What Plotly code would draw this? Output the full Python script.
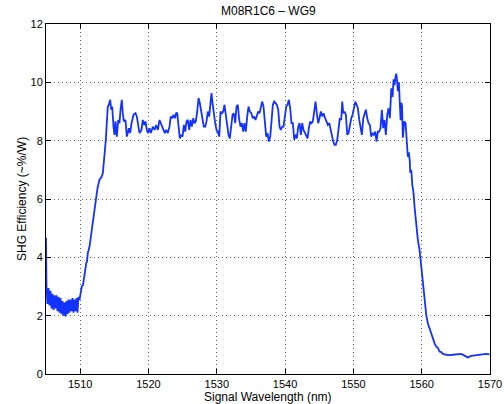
import plotly.graph_objects as go

# Signal wavelength (nm)
wavelength = [
    1505.00, 1505.07, 1505.21, 1505.37, 1505.51, 1505.66, 1505.81, 1505.95, 1506.10, 1506.24,
    1506.39, 1506.54, 1506.68, 1506.83, 1506.98, 1507.12, 1507.27, 1507.42, 1507.56, 1507.71,
    1507.85, 1508.00, 1508.15, 1508.29, 1508.44, 1508.59, 1508.73, 1508.88, 1509.03, 1509.17,
    1509.32, 1509.47, 1509.61, 1509.76, 1509.90, 1510.05, 1510.24, 1510.42, 1510.59, 1510.74,
    1510.89, 1511.00, 1511.12, 1511.37, 1511.56, 1511.81, 1512.06, 1512.29, 1512.54, 1512.83,
    1513.13, 1513.32, 1513.57, 1513.76, 1513.90, 1514.05, 1514.20, 1514.40, 1514.55, 1514.69,
    1514.88, 1515.03, 1515.17, 1515.37, 1515.57, 1515.76, 1515.91, 1516.10, 1516.24, 1516.39,
    1516.64, 1516.83, 1516.98, 1517.12, 1517.33, 1517.52, 1517.81, 1518.10, 1518.29, 1518.50,
    1518.69, 1518.98, 1519.17, 1519.38, 1519.57, 1519.76, 1519.96, 1520.15, 1520.34, 1520.64,
    1520.89, 1521.13, 1521.37, 1521.62, 1521.81, 1522.01, 1522.20, 1522.39, 1522.60, 1522.83,
    1523.08, 1523.27, 1523.48, 1523.67, 1523.86, 1524.06, 1524.21, 1524.40, 1524.59, 1524.80,
    1524.99, 1525.18, 1525.38, 1525.57, 1525.76, 1525.97, 1526.16, 1526.35, 1526.56, 1526.74,
    1526.93, 1527.14, 1527.33, 1527.52, 1527.73, 1527.91, 1528.10, 1528.31, 1528.50, 1528.69,
    1528.89, 1529.08, 1529.23, 1529.38, 1529.57, 1529.77, 1529.96, 1530.15, 1530.36, 1530.55,
    1530.74, 1530.94, 1531.13, 1531.33, 1531.53, 1531.72, 1531.91, 1532.12, 1532.31, 1532.50,
    1532.70, 1532.89, 1533.08, 1533.29, 1533.48, 1533.67, 1533.87, 1534.06, 1534.25, 1534.46,
    1534.65, 1534.84, 1535.04, 1535.28, 1535.48, 1535.67, 1535.86, 1536.07, 1536.26, 1536.45,
    1536.65, 1536.84, 1537.04, 1537.24, 1537.43, 1537.62, 1537.83, 1538.02, 1538.21, 1538.41,
    1538.60, 1538.79, 1539.00, 1539.19, 1539.38, 1539.58, 1539.77, 1539.96, 1540.17, 1540.36,
    1540.55, 1540.75, 1540.94, 1541.14, 1541.34, 1541.53, 1541.72, 1541.93, 1542.12, 1542.31,
    1542.51, 1542.70, 1542.89, 1543.10, 1543.29, 1543.48, 1543.68, 1543.87, 1544.06, 1544.27,
    1544.46, 1544.65, 1544.85, 1545.04, 1545.23, 1545.44, 1545.63, 1545.82, 1546.03, 1546.26,
    1546.47, 1546.65, 1546.84, 1547.05, 1547.24, 1547.43, 1547.64, 1547.83, 1548.02, 1548.22,
    1548.37, 1548.52, 1548.71, 1548.90, 1549.10, 1549.29, 1549.48, 1549.69, 1549.88, 1550.07,
    1550.28, 1550.47, 1550.66, 1550.86, 1551.05, 1551.24, 1551.45, 1551.64, 1551.83, 1552.03,
    1552.22, 1552.41, 1552.61, 1552.80, 1552.99, 1553.20, 1553.39, 1553.58, 1553.78, 1553.97,
    1554.17, 1554.37, 1554.56, 1554.75, 1554.96, 1555.15, 1555.34, 1555.55, 1555.74, 1555.88,
    1556.03, 1556.18, 1556.28, 1556.42, 1556.51, 1556.66, 1556.80, 1556.91, 1557.01, 1557.12,
    1557.24, 1557.45, 1557.64, 1557.83, 1557.97, 1558.12, 1558.26, 1558.32, 1558.47, 1558.62,
    1558.81, 1558.95, 1559.14, 1559.29, 1559.44, 1559.69, 1559.83, 1560.02, 1560.23, 1560.42,
    1560.67, 1560.90, 1561.20, 1561.49, 1561.64, 1561.89, 1562.13, 1562.37, 1562.61, 1562.86,
    1563.10, 1563.83, 1564.56, 1565.29, 1565.79, 1566.27, 1566.75, 1567.25, 1567.98, 1568.72,
    1569.44, 1569.93,
]

# SHG efficiency (~%/W)
efficiency = [
    4.66, 3.00, 2.40, 2.95, 2.35, 2.85, 2.25, 2.75, 2.20, 2.70,
    2.25, 2.70, 2.15, 2.65, 2.10, 2.60, 2.05, 2.50, 2.00, 2.45,
    1.97, 2.50, 2.05, 2.55, 2.10, 2.55, 2.15, 2.60, 2.10, 2.55,
    2.15, 2.60, 2.10, 2.65, 2.54, 2.70, 3.00, 3.05, 3.34, 3.50,
    3.80, 3.85, 4.14, 4.37, 4.71, 5.05, 5.63, 6.08, 6.37, 6.66,
    6.75, 6.88, 7.45, 8.03, 8.60, 9.17, 9.23, 9.40, 9.06, 9.17,
    8.48, 8.20, 8.66, 8.14, 8.71, 8.60, 9.06, 9.40, 8.94, 8.66,
    8.71, 8.14, 8.26, 8.43, 8.26, 8.60, 8.89, 8.94, 8.83, 8.48,
    8.26, 8.37, 8.71, 8.54, 8.66, 8.37, 8.26, 8.43, 8.26, 8.48,
    8.37, 8.54, 8.37, 8.71, 8.60, 8.43, 8.31, 8.26, 8.37, 8.26,
    8.48, 8.83, 8.77, 8.89, 8.77, 8.94, 8.94, 8.48, 8.08, 8.20,
    8.14, 8.54, 8.31, 8.66, 8.71, 8.37, 8.71, 8.48, 8.77, 8.60,
    8.66, 9.00, 9.46, 9.29, 8.94, 8.71, 8.48, 8.48, 8.66, 9.00,
    8.83, 9.29, 9.63, 9.29, 8.83, 8.60, 8.37, 8.31, 8.14, 9.00,
    8.94, 9.00, 9.23, 8.83, 8.37, 8.20, 8.08, 8.48, 8.89, 8.94,
    8.60, 9.17, 9.23, 8.71, 8.48, 8.60, 8.31, 8.60, 8.31, 8.83,
    9.17, 9.00, 8.95, 8.77, 8.83, 8.71, 8.83, 9.00, 8.94, 9.17,
    9.34, 9.17, 8.60, 8.14, 8.26, 7.97, 8.14, 8.83, 9.23, 9.34,
    9.29, 9.23, 9.06, 8.48, 8.37, 8.48, 8.48, 8.83, 9.17, 9.23,
    9.40, 9.11, 8.60, 8.60, 8.03, 8.20, 8.08, 8.48, 8.60, 8.20,
    8.60, 8.37, 8.26, 8.20, 8.08, 8.43, 8.66, 8.60, 8.66, 9.00,
    9.34, 8.94, 8.60, 8.77, 9.00, 8.83, 8.94, 8.80, 8.70, 8.54,
    8.60, 8.37, 8.20, 7.97, 7.86, 7.86, 8.03, 8.54, 8.77, 8.71,
    9.34, 8.94, 9.00, 8.89, 8.20, 8.26, 8.54, 8.77, 8.89, 9.17,
    9.34, 9.23, 9.11, 8.71, 8.48, 8.20, 8.77, 8.89, 9.06, 8.77,
    8.60, 8.54, 8.14, 8.26, 8.20, 8.31, 7.97, 8.31, 8.31, 8.43,
    9.06, 8.43, 8.71, 8.20, 8.89, 9.11, 8.77, 9.80, 9.50, 10.10,
    9.90, 10.20, 10.30, 10.00, 9.70, 10.00, 9.30, 8.70, 9.30, 9.20,
    8.10, 8.66, 8.60, 8.03, 7.45, 7.60, 7.30, 6.90, 7.00, 6.50,
    6.20, 5.74, 5.28, 4.83, 4.60, 4.25, 3.91, 3.55, 2.95, 2.45,
    2.02, 1.74, 1.51, 1.28, 1.17, 1.05, 0.94, 0.90, 0.77, 0.75,
    0.69, 0.65, 0.66, 0.67, 0.69, 0.63, 0.57, 0.62, 0.64, 0.66,
    0.69, 0.67,
]

x_ticks = [1510, 1520, 1530, 1540, 1550, 1560, 1570]
y_ticks = [0, 2, 4, 6, 8, 10, 12]

FONT = "Liberation Sans, Arial, Helvetica, sans-serif"

fig = go.Figure()
fig.add_trace(go.Scatter(
    x=wavelength, y=efficiency, mode="lines",
    line=dict(color="rgb(20,50,255)", width=1.8),
    showlegend=False, hoverinfo="skip",
))

axis_common = dict(
    showline=True, linecolor="black", linewidth=1, mirror="ticks",
    ticks="inside", ticklen=5, tickcolor="black", tickwidth=1,
    showgrid=True, gridcolor="rgba(0,0,0,0.6)", gridwidth=1, griddash="1px,3px",
    zeroline=False, automargin=False,
    tickfont=dict(family=FONT, size=11, color="black"),
)

fig.update_layout(
    width=504, height=404,
    margin=dict(l=46, r=14, t=24, b=30),
    paper_bgcolor="white", plot_bgcolor="white",
    font=dict(family=FONT, size=11, color="black"),
    xaxis=dict(range=[1505, 1570], tickvals=x_ticks, **axis_common),
    yaxis=dict(range=[0, 12], tickvals=y_ticks, **axis_common),
    annotations=[
        dict(text="M08R1C6 \u2013 WG9", xref="paper", yref="paper", x=0.5, y=1.0,
             yshift=4, xanchor="center", yanchor="bottom", showarrow=False,
             font=dict(family=FONT, size=12, color="black")),
        dict(text="Signal Wavelength (nm)", xref="paper", yref="paper", x=0.5, y=0,
             yshift=-14, xanchor="center", yanchor="top", showarrow=False,
             font=dict(family=FONT, size=12, color="black")),
        dict(text="SHG Efficiency (~%/W)", xref="paper", yref="paper", x=0, y=0.5,
             xshift=-15, xanchor="right", yanchor="middle", textangle=-90, showarrow=False,
             font=dict(family=FONT, size=12, color="black")),
    ],
)

fig.write_html(
    "out.html",
    config={"displayModeBar": False},
    post_script="document.body.style.margin='0';document.body.style.overflow='hidden';",
)
